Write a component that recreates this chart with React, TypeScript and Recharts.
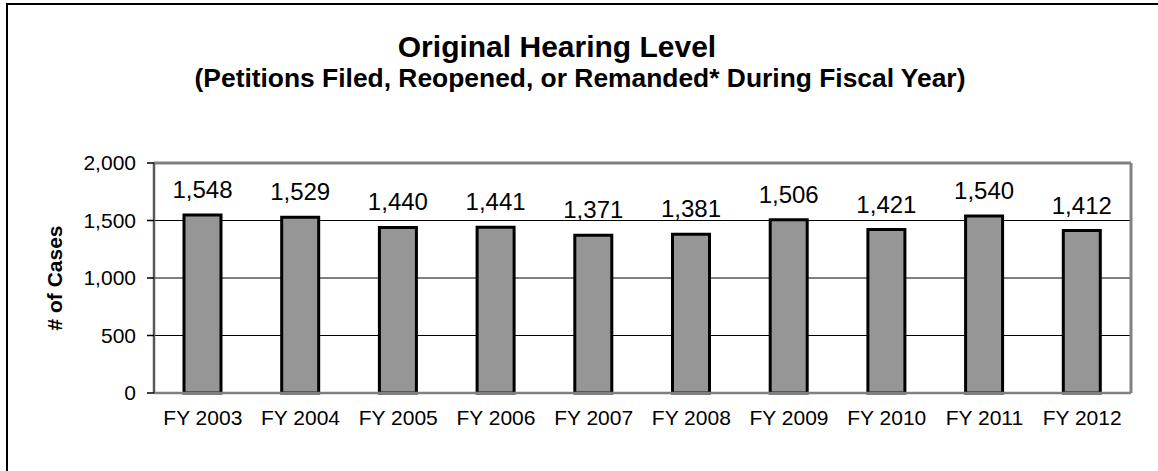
import React from "react";
import {
  BarChart,
  Bar,
  XAxis,
  YAxis,
  CartesianGrid,
  ReferenceLine,
  LabelList,
} from "recharts";

const categories = [
  "FY 2003",
  "FY 2004",
  "FY 2005",
  "FY 2006",
  "FY 2007",
  "FY 2008",
  "FY 2009",
  "FY 2010",
  "FY 2011",
  "FY 2012",
];
const cases = [1548, 1529, 1440, 1441, 1371, 1381, 1506, 1421, 1540, 1412];
const yTicks = [0, 500, 1000, 1500, 2000];
const boundaryTicks = [0, 1, 2, 3, 4, 5, 6, 7, 8, 9, 10];

const data = categories.map((c, i) => ({ name: c, value: cases[i] }));

const FONT = "Arial, 'Liberation Sans', sans-serif";
const fmt = (v: number) => Number(v).toLocaleString("en-US");

const ValueLabel = (props: any) => {
  const { x, y, width, value } = props;
  return (
    <text
      x={Number(x) + Number(width) / 2}
      y={Number(y) - 17}
      textAnchor="middle"
      fontSize={24}
      fontFamily={FONT}
      fill="#000"
    >
      {fmt(value)}
    </text>
  );
};

export default function App() {
  return (
    <div
      style={{
        position: "absolute",
        left: 0,
        top: 0,
        width: 1158,
        height: 471,
        background: "#fff",
        fontFamily: FONT,
      }}
    >
      <div
        style={{
          position: "absolute",
          left: 6,
          top: 3,
          width: 1150,
          height: 480,
          borderLeft: "2px solid #000",
          borderTop: "2px solid #000",
          borderRight: "1px solid #d9d9d9",
        }}
      />
      <svg
        width={1158}
        height={120}
        style={{ position: "absolute", left: 0, top: 0 }}
      >
        <text
          x={557}
          y={57}
          textAnchor="middle"
          fontFamily={FONT}
          fontWeight="bold"
          fontSize={30}
          fill="#000"
        >
          Original Hearing Level
        </text>
        <text
          x={580}
          y={87}
          textAnchor="middle"
          fontFamily={FONT}
          fontWeight="bold"
          fontSize={26.4}
          fill="#000"
        >
          (Petitions Filed, Reopened, or Remanded* During Fiscal Year)
        </text>
      </svg>
      <div style={{ position: "absolute", left: 0, top: 0 }}>
        <BarChart
          width={1158}
          height={471}
          data={data}
          margin={{ top: 163, right: 0, bottom: 0, left: 0 }}
          style={{ fontFamily: FONT }}
        >
          <CartesianGrid vertical={false} stroke="#000" strokeWidth={1} />
          <XAxis
            xAxisId="t"
            type="number"
            domain={[0, 10]}
            ticks={boundaryTicks}
            tick={false}
            tickLine={{ stroke: "#000", strokeWidth: 1.5 }}
            tickSize={7}
            axisLine={false}
            height={0}
            allowDataOverflow
          />
          <XAxis
            dataKey="name"
            interval={0}
            tickLine={false}
            tickSize={0}
            tickMargin={17}
            axisLine={{ stroke: "#808080", strokeWidth: 2.5 }}
            tick={{ fill: "#000", fontSize: 21, fontFamily: FONT }}
            height={78}
          />
          <YAxis
            domain={[0, 2000]}
            ticks={yTicks}
            tickFormatter={fmt}
            width={154}
            tickSize={7}
            tickMargin={11}
            tickLine={{ stroke: "#000", strokeWidth: 1.5 }}
            axisLine={{ stroke: "#595959", strokeWidth: 2.5 }}
            tick={{ fill: "#000", fontSize: 21, fontFamily: FONT }}
            label={{
              value: "# of Cases",
              angle: -90,
              position: "center",
              dx: -22,
              style: {
                fontSize: 21,
                fontWeight: "bold",
                fill: "#000",
                fontFamily: FONT,
              },
            }}
          />
          <YAxis
            yAxisId="r"
            orientation="right"
            domain={[0, 2000]}
            width={27}
            tick={false}
            tickLine={false}
            axisLine={{ stroke: "#808080", strokeWidth: 3 }}
          />
          <ReferenceLine y={2000} stroke="#808080" strokeWidth={3} />
          <Bar
            dataKey="value"
            fill="#969696"
            stroke="#000"
            strokeWidth={3}
            barSize={37}
            isAnimationActive={false}
          >
            <LabelList dataKey="value" content={<ValueLabel />} />
          </Bar>
        </BarChart>
      </div>
    </div>
  );
}
